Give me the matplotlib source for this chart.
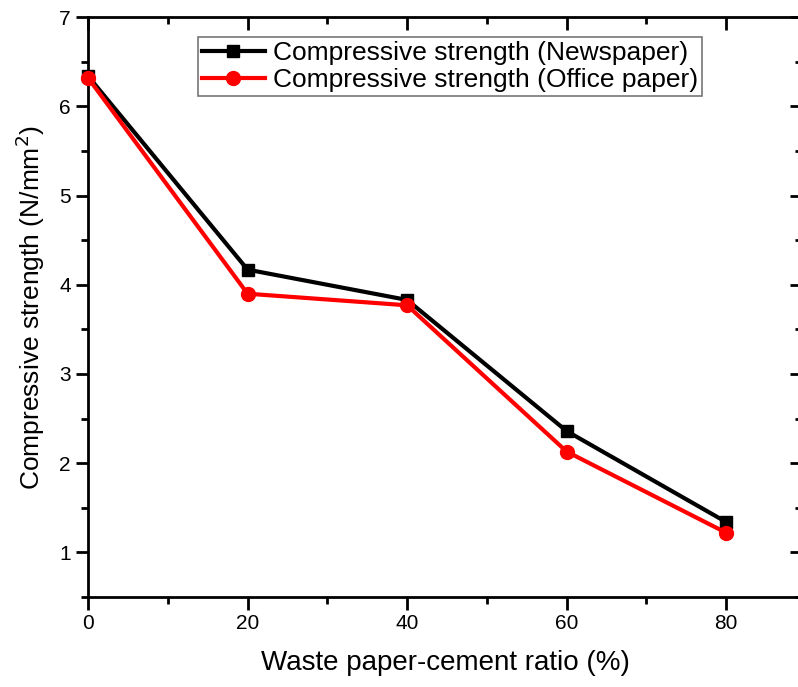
import matplotlib
matplotlib.use('Agg')
import matplotlib.pyplot as plt
from matplotlib.ticker import MultipleLocator

plt.rcParams['font.family'] = ['Liberation Sans', 'DejaVu Sans']

# data
ratio = [0, 20, 40, 60, 80]
newspaper = [6.34, 4.17, 3.83, 2.36, 1.34]
office = [6.32, 3.90, 3.77, 2.13, 1.22]

fig = plt.figure(figsize=(7.98, 6.87), dpi=100)
# right spine sits just past the canvas edge, like the cropped original
ax = fig.add_axes([0.1103, 0.131, 0.8947, 0.844])

ax.plot(ratio, newspaper, color='black', lw=3, marker='s', ms=8.5,
        label='Compressive strength (Newspaper)', clip_on=False, zorder=3)
ax.plot(ratio, office, color='red', lw=3, marker='o', ms=10,
        label='Compressive strength (Office paper)', clip_on=False, zorder=3)

ax.set_xlim(0, 89.5)
ax.set_ylim(0.5, 7)
ax.xaxis.set_major_locator(MultipleLocator(20))
ax.xaxis.set_minor_locator(MultipleLocator(10))
ax.yaxis.set_major_locator(MultipleLocator(1))
ax.yaxis.set_minor_locator(MultipleLocator(0.5))

for s in ax.spines.values():
    s.set_linewidth(2)

ax.tick_params(which='major', direction='out', length=9, width=2, labelsize=15)
ax.tick_params(which='minor', direction='out', length=5, width=2)

# mirrored inward ticks on top and right, as in Origin
top = ax.secondary_xaxis('top')
top.xaxis.set_major_locator(MultipleLocator(20))
top.xaxis.set_minor_locator(MultipleLocator(10))
top.tick_params(which='major', direction='in', length=9, width=2, labeltop=False)
top.tick_params(which='minor', direction='in', length=5, width=2)
right = ax.secondary_yaxis('right')
right.yaxis.set_major_locator(MultipleLocator(1))
right.yaxis.set_minor_locator(MultipleLocator(0.5))
right.tick_params(which='major', direction='in', length=9, width=2, labelright=False)
right.tick_params(which='minor', direction='in', length=5, width=2)

ax.set_xlabel('Waste paper-cement ratio (%)', fontsize=20, labelpad=12)
ax.set_ylabel('Compressive strength (N/mm$^2$)', fontsize=19, labelpad=9)

leg = ax.legend(loc='upper left', bbox_to_anchor=(0.1535, 0.965), fontsize=19,
                frameon=True, fancybox=False, borderpad=0.15, handlelength=2.4,
                handletextpad=0.3, labelspacing=0.1, borderaxespad=0)
leg.get_frame().set_edgecolor('#555555')
leg.get_frame().set_linewidth(1.2)

fig.savefig('out.png', dpi=100)
